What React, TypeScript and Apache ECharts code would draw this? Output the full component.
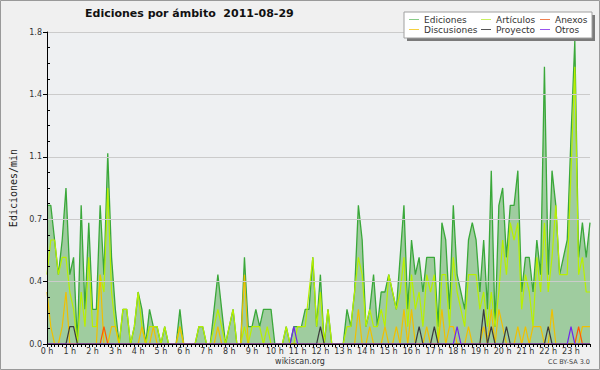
import React, { useEffect, useRef } from "react";
import * as echarts from "echarts";

// 10-minute slots, 0h .. 23h50
const SLOTS: string[] = [];
for (let h = 0; h < 24; h++) for (let m = 0; m < 60; m += 10) SLOTS.push(`${h}:${m === 0 ? "00" : m}`);

const ediciones = [
  0.8, 0.8, 0.6, 0.4, 0.6, 0.9, 0.4, 0.5, 0, 0.8, 0.2, 0.7,
  0.2, 0.2, 0.8, 0.4, 1.1, 0.5, 0.2, 0, 0.2, 0.2, 0, 0.1,
  0.3, 0.2, 0, 0.2, 0.1, 0.1, 0, 0.1, 0, 0, 0, 0.2,
  0, 0, 0, 0, 0.1, 0.1, 0, 0, 0.2, 0.4, 0.2, 0,
  0.1, 0.2, 0, 0, 0.5, 0.1, 0.1, 0.2, 0.1, 0.2, 0.2, 0.2,
  0, 0, 0, 0.1, 0, 0.1, 0.1, 0.1, 0.2, 0.2, 0.5, 0.1,
  0.4, 0, 0.2, 0, 0, 0, 0, 0.2, 0.1, 0.3, 0.8, 0.6,
  0.1, 0.2, 0.4, 0.1, 0.3, 0.3, 0.4, 0.3, 0.2, 0.5, 0.8, 0.2,
  0.6, 0.4, 0.5, 0.3, 0.5, 0.5, 0.5, 0.1, 0.7, 0.6, 0.2, 0.8,
  0.4, 0.3, 0.2, 0.6, 0.7, 0.6, 0.3, 0.6, 0.2, 1.0, 0.1, 0.8,
  0.9, 0.5, 0.8, 0.8, 1.0, 0.3, 0.5, 0.5, 0.3, 0.6, 0.4, 1.6,
  0.4, 1.0, 0.8, 0.4, 0.5, 0.6, 1.2, 1.75, 0.5, 0.7, 0.5, 0.7,
];

const articulos = [
  0.4, 0.6, 0.6, 0.4, 0.5, 0.5, 0.3, 0.2, 0, 0.3, 0.1, 0.5,
  0.1, 0.1, 0.4, 0.3, 0.9, 0.3, 0.1, 0, 0.2, 0.2, 0, 0.1,
  0.3, 0.1, 0, 0.1, 0.1, 0.1, 0, 0.1, 0, 0, 0, 0.1,
  0, 0, 0, 0, 0.1, 0.1, 0, 0, 0.1, 0.2, 0.1, 0,
  0.1, 0.2, 0, 0, 0.1, 0, 0.1, 0.1, 0.1, 0, 0.1, 0,
  0, 0, 0, 0.1, 0, 0, 0.1, 0.1, 0.1, 0.3, 0.5, 0.1,
  0.3, 0, 0.2, 0, 0, 0, 0, 0.1, 0.1, 0.3, 0.5, 0.4,
  0.1, 0.2, 0.1, 0.1, 0.2, 0.1, 0.4, 0.3, 0.2, 0.3, 0.5, 0.1,
  0.4, 0.2, 0.3, 0.1, 0.4, 0.3, 0.4, 0, 0.4, 0.4, 0.1, 0.5,
  0.3, 0.2, 0.1, 0.4, 0.4, 0.4, 0.2, 0.3, 0.1, 0.3, 0.1, 0.3,
  0.6, 0.4, 0.7, 0.6, 0.7, 0.2, 0.4, 0.3, 0.1, 0.5, 0.3, 0.7,
  0.3, 0.5, 0.8, 0.4, 0.4, 0.4, 1.0, 1.6, 0.4, 0.5, 0.3, 0.3,
];

const discusiones = [
  0.3, 0.1, 0, 0, 0.1, 0.3, 0, 0, 0, 0, 0, 0,
  0, 0, 0.4, 0, 0, 0.1, 0.1, 0, 0, 0, 0, 0,
  0, 0.1, 0, 0, 0.1, 0, 0, 0, 0, 0, 0, 0.1,
  0, 0, 0, 0, 0, 0, 0, 0, 0, 0.1, 0, 0,
  0, 0, 0, 0, 0.4, 0, 0, 0, 0, 0, 0, 0,
  0, 0, 0, 0, 0, 0, 0, 0, 0, 0, 0, 0,
  0, 0, 0, 0, 0, 0, 0, 0, 0, 0, 0.2, 0,
  0, 0.1, 0, 0, 0, 0.1, 0, 0, 0.1, 0, 0.2, 0,
  0.2, 0, 0, 0, 0.1, 0, 0, 0, 0.2, 0, 0.1, 0.1,
  0, 0, 0, 0.1, 0, 0, 0, 0.1, 0, 0.2, 0, 0.2,
  0.1, 0, 0, 0, 0.1, 0, 0.1, 0, 0.1, 0.1, 0.1, 0,
  0, 0.2, 0, 0, 0, 0, 0, 0, 0, 0.1, 0.1, 0.1,
];

const anexos = [
  0, 0, 0, 0, 0, 0, 0, 0, 0, 0, 0, 0,
  0, 0, 0, 0.1, 0, 0, 0, 0, 0, 0, 0, 0,
  0, 0, 0, 0, 0, 0, 0, 0, 0, 0, 0, 0,
  0, 0, 0, 0, 0, 0, 0, 0, 0, 0, 0, 0,
  0, 0, 0, 0, 0, 0, 0, 0, 0, 0, 0, 0,
  0, 0, 0, 0, 0, 0, 0, 0, 0, 0, 0, 0,
  0, 0, 0, 0, 0, 0, 0, 0, 0, 0, 0, 0,
  0, 0, 0, 0, 0, 0, 0, 0, 0, 0, 0, 0,
  0, 0, 0, 0, 0, 0, 0, 0, 0, 0, 0, 0,
  0, 0, 0, 0, 0, 0, 0, 0, 0, 0, 0, 0,
  0, 0, 0, 0, 0, 0, 0, 0, 0, 0, 0, 0,
  0, 0, 0, 0, 0, 0, 0, 0, 0.1, 0, 0, 0,
];

const proyecto = [
  0, 0, 0, 0, 0, 0, 0.1, 0.1, 0, 0, 0, 0,
  0, 0, 0, 0, 0, 0, 0, 0, 0, 0, 0, 0,
  0, 0, 0, 0, 0, 0, 0, 0, 0, 0, 0, 0,
  0, 0, 0, 0, 0, 0, 0, 0, 0, 0, 0, 0,
  0, 0, 0, 0, 0, 0, 0, 0, 0, 0, 0, 0,
  0, 0, 0, 0, 0, 0, 0, 0, 0, 0, 0, 0,
  0.1, 0, 0, 0, 0, 0, 0, 0, 0, 0, 0, 0,
  0, 0, 0, 0, 0, 0, 0, 0, 0, 0, 0, 0,
  0, 0, 0.1, 0, 0, 0, 0.1, 0, 0, 0, 0, 0,
  0, 0, 0, 0, 0, 0, 0, 0.2, 0, 0.1, 0, 0,
  0, 0.1, 0, 0, 0, 0, 0, 0, 0, 0, 0, 0,
  0.1, 0, 0, 0, 0, 0, 0, 0, 0, 0, 0, 0,
];

const otros = [
  0, 0, 0, 0, 0, 0, 0, 0, 0, 0, 0, 0,
  0, 0, 0, 0, 0, 0, 0, 0, 0, 0, 0, 0,
  0, 0, 0, 0, 0, 0, 0, 0, 0, 0, 0, 0,
  0, 0, 0, 0, 0, 0, 0, 0, 0, 0, 0, 0,
  0, 0, 0, 0, 0, 0, 0, 0, 0, 0, 0, 0,
  0, 0, 0, 0, 0, 0.1, 0, 0, 0, 0, 0, 0,
  0, 0, 0, 0, 0, 0, 0, 0, 0, 0, 0, 0,
  0, 0, 0, 0, 0, 0, 0, 0, 0, 0, 0, 0,
  0, 0, 0, 0, 0, 0, 0, 0, 0, 0, 0, 0,
  0.1, 0, 0, 0, 0, 0, 0, 0, 0, 0, 0, 0,
  0, 0, 0, 0, 0, 0, 0, 0, 0, 0, 0, 0,
  0, 0, 0, 0, 0, 0, 0.1, 0, 0, 0, 0, 0,
];

const TITLE = "Ediciones por ámbito  2011-08-29";
const Y_NAME = "Ediciones/min";
const FOOTER = "wikiscan.org";
const LICENSE = "CC BY-SA 3.0";

const LINE_ICON = "path://M0,4.5H10V5.5H0Z";
const FONT = "DejaVu Sans";

export default function App() {
  const ref = useRef<HTMLDivElement>(null);
  useEffect(() => {
    if (!ref.current) return;
    const chart = echarts.init(ref.current, null, { renderer: "svg" });
    const legendBase = {
      orient: "vertical",
      top: 14.5,
      itemGap: 0,
      itemWidth: 10,
      itemHeight: 10,
      padding: 0,
      icon: LINE_ICON,
      z: 20,
      textStyle: { fontSize: 9, lineHeight: 10, color: "#333", fontFamily: FONT },
    };
    const mk = (name: string, data: number[], color: string, width = 1.2, z = 3) => ({
      name,
      type: "line",
      data,
      color,
      symbol: "none",
      z,
      lineStyle: { color, width },
    });
    chart.setOption({
      animation: false,
      backgroundColor: "#f0f0f0",
      title: {
        text: TITLE,
        left: 85,
        top: 8,
        padding: 0,
        textStyle: { fontSize: 11, fontWeight: "bold", color: "#111", fontFamily: FONT },
      },
      legend: [
        { ...legendBase, left: 409, data: [{ name: "Ediciones", itemStyle: { color: "#88cc88" } }, { name: "Discusiones", itemStyle: { color: "#f5d040" } }] },
        { ...legendBase, left: 481, data: [{ name: "Artículos", itemStyle: { color: "#c8f060" } }, { name: "Proyecto", itemStyle: { color: "#555" } }] },
        { ...legendBase, left: 540, data: [{ name: "Anexos", itemStyle: { color: "#f08050" } }, { name: "Otros", itemStyle: { color: "#9955ee" } }] },
      ],
      grid: {
        left: 46,
        right: 10,
        top: 32,
        bottom: 26,
        show: true,
        backgroundColor: "#eef0f2",
        borderWidth: 0,
      },
      xAxis: {
        type: "category",
        data: SLOTS,
        boundaryGap: false,
        z: 10,
        axisLine: { lineStyle: { color: "#000", width: 1 } },
        axisTick: { show: true, interval: 0, length: 3, lineStyle: { color: "#000" } },
        axisLabel: {
          interval: (i: number) => i % 6 === 0,
          formatter: (v: string) => `${v.split(":")[0]} h`,
          fontSize: 8,
          color: "#333",
          margin: 3,
          fontFamily: FONT,
        },
        splitLine: { show: false },
      },
      yAxis: {
        type: "value",
        min: 0,
        max: 1.8,
        interval: 0.36,
        z: 10,
        name: Y_NAME,
        nameLocation: "middle",
        nameGap: 29,
        nameRotate: 90,
        nameTextStyle: { fontSize: 10, color: "#222", fontFamily: "DejaVu Sans Mono" },
        axisLine: { show: true, lineStyle: { color: "#000", width: 1 } },
        axisTick: { show: true, length: 4, lineStyle: { color: "#000" } },
        minorTick: { show: true, splitNumber: 4, length: -3, lineStyle: { color: "#000" } },
        axisLabel: {
          formatter: (v: number) => v.toFixed(1),
          fontSize: 8,
          color: "#333",
          margin: 5,
          fontFamily: FONT,
        },
        splitLine: { show: true, lineStyle: { color: "#cbcbcb", width: 1 } },
      },
      graphic: [
        { type: "rect", z: 15, shape: { x: 407, y: 15, width: 188, height: 26 }, style: { fill: "#7a7a7a" } },
        { type: "rect", z: 16, shape: { x: 404, y: 12, width: 188, height: 26 }, style: { fill: "#ffffff", stroke: "#a0a0a0", lineWidth: 1 } },
        { type: "text", z: 16, x: 300, y: 361, style: { text: FOOTER, fontSize: 8, fill: "#333", fontFamily: FONT, align: "center", verticalAlign: "middle" } },
        { type: "text", z: 16, x: 590, y: 362, style: { text: LICENSE, fontSize: 6.5, fill: "#444", fontFamily: FONT, align: "right", verticalAlign: "middle" } },
        { type: "rect", z: 30, shape: { x: 0.5, y: 0.5, width: 599, height: 369 }, style: { fill: "none", stroke: "#999", lineWidth: 1 } },
      ],
      series: [
        {
          ...mk("Ediciones", ediciones, "#3aa83a", 1.3, 2),
          areaStyle: { color: "#9fcc9f", opacity: 1 },
        },
        mk("Artículos", articulos, "#b8f000", 1.2, 3),
        mk("Discusiones", discusiones, "#f0c000", 1.2, 4),
        mk("Anexos", anexos, "#ff5a00", 1.2, 5),
        mk("Proyecto", proyecto, "#3c3c3c", 1.2, 5),
        mk("Otros", otros, "#7028e8", 1.2, 5),
      ],
    });
    return () => chart.dispose();
  }, []);
  return <div ref={ref} style={{ position: "fixed", left: 0, top: 0, width: 600, height: 370 }} />;
}
